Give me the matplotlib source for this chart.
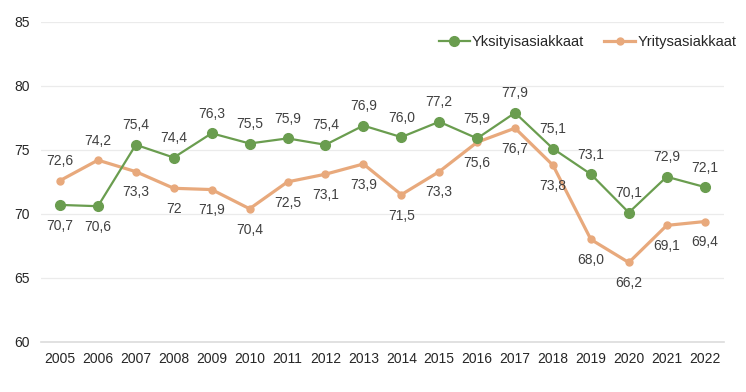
import matplotlib

matplotlib.use("Agg")
import matplotlib.pyplot as plt
import numpy as np

plt.rcParams["font.family"] = ["Liberation Sans", "DejaVu Sans"]

years = [str(y) for y in range(2005, 2023)]
private = [70.7, 70.6, 75.4, 74.4, 76.3, 75.5, 75.9, 75.4, 76.9, 76.0, 77.2, 75.9, 77.9, 75.1, 73.1, 70.1, 72.9, 72.1]
private_labels = ["70,7", "70,6", "75,4", "74,4", "76,3", "75,5", "75,9", "75,4", "76,9", "76,0",
                  "77,2", "75,9", "77,9", "75,1", "73,1", "70,1", "72,9", "72,1"]
business = [72.6, 74.2, 73.3, 72.0, 71.9, 70.4, 72.5, 73.1, 73.9, 71.5, 73.3, 75.6, 76.7, 73.8, 68.0, 66.2, 69.1, 69.4]
business_labels = ["72,6", "74,2", "73,3", "72", "71,9", "70,4", "72,5", "73,1", "73,9", "71,5",
                   "73,3", "75,6", "76,7", "73,8", "68,0", "66,2", "69,1", "69,4"]
# which labels sit below / above the point
private_below = {0, 1}
business_above = {0, 1}

GREEN = "#6a9d4f"
ORANGE = "#e8a97c"

fig = plt.figure(figsize=(7.46, 3.92), dpi=100)
ax = fig.add_axes([0.055, 0.128, 0.915, 0.816])

x = np.arange(len(years))
ax.plot(x, business, color=ORANGE, linewidth=2.3, marker="o", markersize=5,
        label="Yritysasiakkaat", zorder=3)
ax.plot(x, private, color=GREEN, linewidth=1.6, marker="o", markersize=7,
        label="Yksityisasiakkaat", zorder=4)

for i in x:
    dy = -15 if i in private_below else 14
    ax.annotate(private_labels[i], (i, private[i]), xytext=(0, dy), textcoords="offset points",
                ha="center", va="center", fontsize=10, color="#404040")
    dy = 14 if i in business_above else -15
    ax.annotate(business_labels[i], (i, business[i]), xytext=(0, dy), textcoords="offset points",
                ha="center", va="center", fontsize=10, color="#404040")

ax.set_xlim(-0.5, len(years) - 0.5)
ax.set_ylim(60, 85)
ax.set_yticks([60, 65, 70, 75, 80, 85])
ax.set_xticks(x)
ax.set_xticklabels(years)
ax.tick_params(axis="both", length=0, labelsize=10, colors="#262626")
ax.tick_params(axis="y", pad=8)
ax.tick_params(axis="x", pad=7)
ax.grid(axis="y", color="#ebebeb", linewidth=0.9)
ax.set_axisbelow(True)
for s in ["top", "right", "left"]:
    ax.spines[s].set_visible(False)
ax.spines["bottom"].set_color("#dcdcdc")
ax.spines["bottom"].set_linewidth(1.2)

handles, labels = ax.get_legend_handles_labels()
fig.legend(handles[::-1], labels[::-1], loc="center right", bbox_to_anchor=(0.987, 0.893),
           ncol=2, frameon=False, fontsize=10.5, handlelength=2.1, handletextpad=0.15,
           columnspacing=1.4, borderpad=0, borderaxespad=0, labelcolor="#262626")

fig.savefig("out.png", dpi=100)
